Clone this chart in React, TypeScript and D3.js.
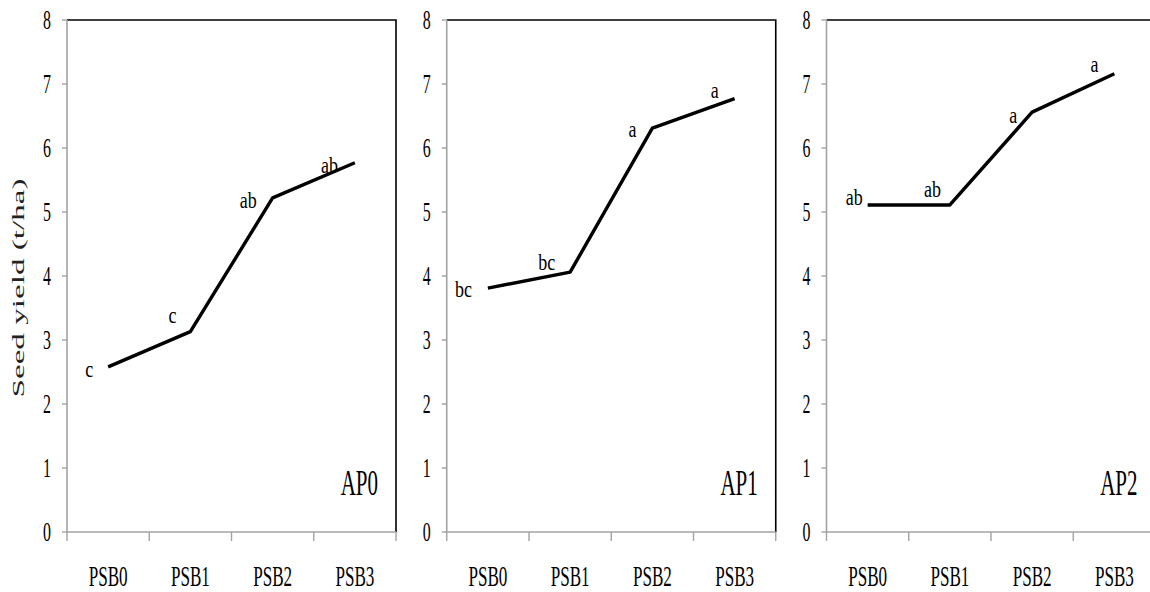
import React from "react";
import * as d3 from "d3";

// treatments on the x axis
const categories = ["PSB0", "PSB1", "PSB2", "PSB3"];
const panelNames = ["AP0", "AP1", "AP2"];

// seed yield (t/ha)
const ap0Yield = [2.58, 3.13, 5.22, 5.77];
const ap1Yield = [3.81, 4.06, 6.31, 6.77];
const ap2Yield = [5.11, 5.11, 6.56, 7.16];

// significance letters
const ap0Letters = ["c", "c", "ab", "ab"];
const ap1Letters = ["bc", "bc", "a", "a"];
const ap2Letters = ["ab", "ab", "a", "a"];

const yTicks = [0, 1, 2, 3, 4, 5, 6, 7, 8];

const panelData = [
  { name: panelNames[0], values: ap0Yield, letters: ap0Letters },
  { name: panelNames[1], values: ap1Yield, letters: ap1Letters },
  { name: panelNames[2], values: ap2Yield, letters: ap2Letters },
];

// layout
const W = 1150;
const H = 592;
const top = 20;
const innerW = 329;
const innerH = 512;
const panelLeft = [67, 446.75, 826.5];
// manual nudges for the letters (end anchor dx, baseline dy), like the hand-placed labels
const letterNudge = [
  [[-15, 10], [-14, -9], [-16, 10], [-17, 10]],
  [[-16, 9], [-15, -2], [-16, 9], [-16, -1]],
  [[-5, 0], [-9, -8], [-15, 11], [-16, -2]],
];

const font = "'Liberation Serif', 'Times New Roman', serif";
const axisGrey = "#a3a3a3";

const SText = ({ x, y, size, sx, anchor = "middle", children }: any) => (
  <text
    transform={`translate(${x},${y}) scale(${sx},1)`}
    fontSize={size}
    fontFamily={font}
    textAnchor={anchor}
    fill="#000"
  >
    {children}
  </text>
);

const Panel = ({ p, i }: any) => {
  const x = d3.scaleBand().domain(categories).range([0, innerW]).paddingInner(0).paddingOuter(0);
  const y = d3.scaleLinear().domain([0, 8]).range([innerH, 0]);
  const cx = (c: string) => (x(c) as number) + x.bandwidth() / 2;

  const line = d3
    .line<number>()
    .x((_, j) => cx(categories[j]))
    .y((d) => y(d));

  const bounds = categories.map((c) => x(c) as number).concat([innerW]);

  return (
    <g transform={`translate(${panelLeft[i]},${top})`}>
      {/* top and right frame */}
      <path d={`M0,0H${innerW}V${innerH}`} fill="none" stroke="#000" strokeWidth={1.6} />
      {/* left axis */}
      <line x1={0} x2={0} y1={0} y2={innerH} stroke={axisGrey} strokeWidth={1.6} />
      {yTicks.map((t) => (
        <g key={t}>
          <line x1={-5} x2={0} y1={y(t)} y2={y(t)} stroke={axisGrey} strokeWidth={1.4} />
          <SText x={-16} y={y(t) + 9} size={26.5} sx={0.6} anchor="end">
            {t}
          </SText>
        </g>
      ))}
      {/* bottom axis */}
      <line x1={0} x2={innerW} y1={innerH} y2={innerH} stroke={axisGrey} strokeWidth={1.6} />
      {bounds.map((b, k) => (
        <line key={k} x1={b} x2={b} y1={innerH} y2={innerH + 9} stroke={axisGrey} strokeWidth={1.4} />
      ))}
      {categories.map((c) => (
        <SText key={c} x={cx(c)} y={innerH + 54} size={28.5} sx={0.6}>
          {c}
        </SText>
      ))}
      <path
        d={line(p.values) as string}
        fill="none"
        stroke="#000"
        strokeWidth={3.4}
        strokeLinejoin="round"
      />
      {p.letters.map((l: string, j: number) => (
        <SText
          key={j}
          x={cx(categories[j]) + letterNudge[i][j][0]}
          y={y(p.values[j]) + letterNudge[i][j][1]}
          size={24}
          sx={0.75}
          anchor="end"
        >
          {l}
        </SText>
      ))}
      <SText x={innerW - 18} y={innerH - 37} size={35} sx={0.6} anchor="end">
        {p.name}
      </SText>
    </g>
  );
};

const App = () => {
  return (
    <svg
      width={W}
      height={H}
      style={{ position: "absolute", left: 0, top: 0, background: "#fff" }}
    >
      {panelData.map((p, i) => (
        <Panel key={p.name} p={p} i={i} />
      ))}
      <text
        transform={`translate(24,288) rotate(-90)`}
        fontSize={17}
        fontFamily={font}
        textAnchor="middle"
        textLength={219}
        lengthAdjust="spacingAndGlyphs"
        fill="#222"
      >
        Seed yield (t/ha)
      </text>
    </svg>
  );
};

export default App;
